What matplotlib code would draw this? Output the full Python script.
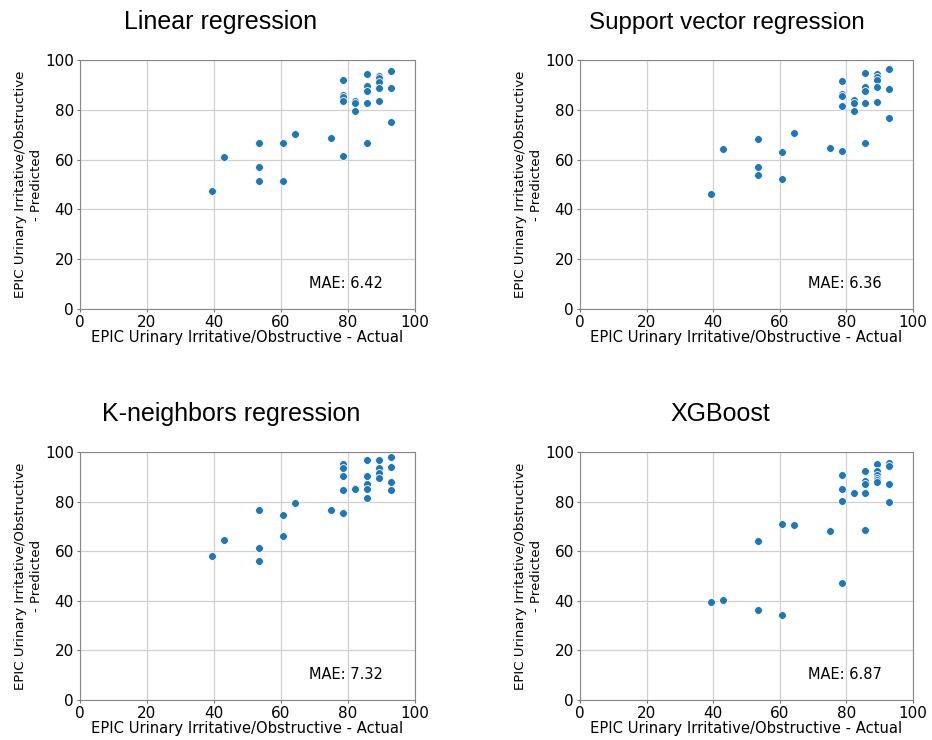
import numpy as np
import matplotlib
matplotlib.use("Agg")
import matplotlib.pyplot as plt

# EPIC scores take discrete values (k/28 * 100)
# Linear regression
lr_actual = [39.29, 42.86, 53.57, 53.57, 53.57, 60.71, 60.71, 64.29, 75.0,
             78.57, 78.57, 78.57, 78.57, 78.57, 82.14, 82.14, 82.14,
             85.71, 85.71, 85.71, 85.71, 85.71, 89.29, 89.29, 89.29, 89.29, 89.29,
             92.86, 92.86, 92.86]
lr_pred = [47.2, 60.9, 66.5, 57.2, 51.6, 66.5, 51.6, 70.1, 68.5,
           61.6, 92.1, 86.0, 85.2, 83.6, 83.6, 82.7, 79.5,
           94.4, 89.7, 87.7, 82.7, 66.5, 93.7, 92.7, 91.3, 88.9, 83.6,
           95.7, 88.9, 75.3]

# Support vector regression
svr_actual = lr_actual
svr_pred = [46.3, 64.1, 68.4, 57.2, 54.0, 62.9, 52.4, 70.7, 64.5,
            63.6, 91.7, 86.3, 85.5, 81.7, 84.0, 82.7, 79.6,
            94.7, 89.1, 87.5, 82.7, 66.5, 94.4, 93.1, 92.0, 89.2, 83.3,
            96.4, 88.5, 76.8]

# K-neighbors regression
knn_actual = [39.29, 42.86, 53.57, 53.57, 53.57, 60.71, 60.71, 64.29, 75.0,
              78.57, 78.57, 78.57, 78.57, 78.57, 82.14, 82.14, 82.14,
              85.71, 85.71, 85.71, 85.71, 85.71, 89.29, 89.29, 89.29, 89.29,
              92.86, 92.86, 92.86, 92.86]
knn_pred = [58.0, 64.7, 76.7, 61.1, 56.1, 74.4, 66.0, 79.3, 76.7,
            75.3, 95.3, 93.5, 90.4, 84.7, 85.2, 85.5, 85.0,
            96.9, 90.5, 87.1, 85.2, 81.6, 96.8, 93.5, 91.7, 89.7,
            98.1, 94.0, 87.9, 84.7]

# XGBoost
xgb_actual = [39.29, 42.86, 53.57, 53.57, 60.71, 60.71, 64.29, 75.0,
              78.57, 78.57, 78.57, 78.57, 82.14,
              85.71, 85.71, 85.71, 85.71, 85.71,
              89.29, 89.29, 89.29, 89.29, 89.29, 89.29,
              92.86, 92.86, 92.86, 92.86]
xgb_pred = [39.5, 40.5, 64.0, 36.3, 71.1, 34.1, 70.7, 68.1,
            90.9, 85.2, 80.3, 47.3, 83.3,
            92.4, 88.3, 86.9, 83.3, 68.5,
            95.2, 92.4, 90.8, 89.7, 88.7, 87.9,
            95.5, 94.5, 86.9, 80.0]

titles = ["Linear regression", "Support vector regression",
          "K-neighbors regression", "XGBoost"]
maes = ["6.42", "6.36", "7.32", "6.87"]
title_x = [0.42, 0.44, 0.45, 0.42]
title_size = [18, 17.4, 18, 18]

fig = plt.figure(figsize=(9.32, 7.4), dpi=100)
W, H = 932.0, 740.0
# axes boxes in pixels: left, top, right, bottom
boxes = [(80, 60, 415, 309), (580, 60, 913, 309),
         (80, 452, 415, 700), (580, 452, 913, 700)]
data = [(lr_actual, lr_pred), (svr_actual, svr_pred),
        (knn_actual, knn_pred), (xgb_actual, xgb_pred)]

for i in range(4):
    l, t, r, b = boxes[i]
    ax = fig.add_axes([l / W, 1 - b / H, (r - l) / W, (b - t) / H])
    ax.set_axisbelow(True)
    ax.grid(True, color="#d0d0d0", linewidth=0.9)
    ax.scatter(data[i][0], data[i][1], s=32, color="#1f77b4",
               edgecolor="white", linewidth=0.6, zorder=3)
    ax.set_xlim(0, 100)
    ax.set_ylim(0, 100)
    ax.set_xticks([0, 20, 40, 60, 80, 100])
    ax.set_yticks([0, 20, 40, 60, 80, 100])
    ax.tick_params(labelsize=11, color="#777777", length=2.5, pad=2)
    for sp in ax.spines.values():
        sp.set_color("#888888")
    ax.set_xlabel("EPIC Urinary Irritative/Obstructive - Actual", fontsize=10.6, labelpad=0)
    ax.set_ylabel("EPIC Urinary Irritative/Obstructive\n- Predicted", fontsize=9.6,
                  labelpad=1.5, linespacing=1.25)
    ax.set_title(titles[i], fontsize=title_size[i], x=title_x[i], pad=22,
                 family=["Liberation Sans", "DejaVu Sans"])
    ax.text(68.5, 10.4, "MAE: " + maes[i], fontsize=10.5, va="center")

fig.savefig("out.png", dpi=100)
